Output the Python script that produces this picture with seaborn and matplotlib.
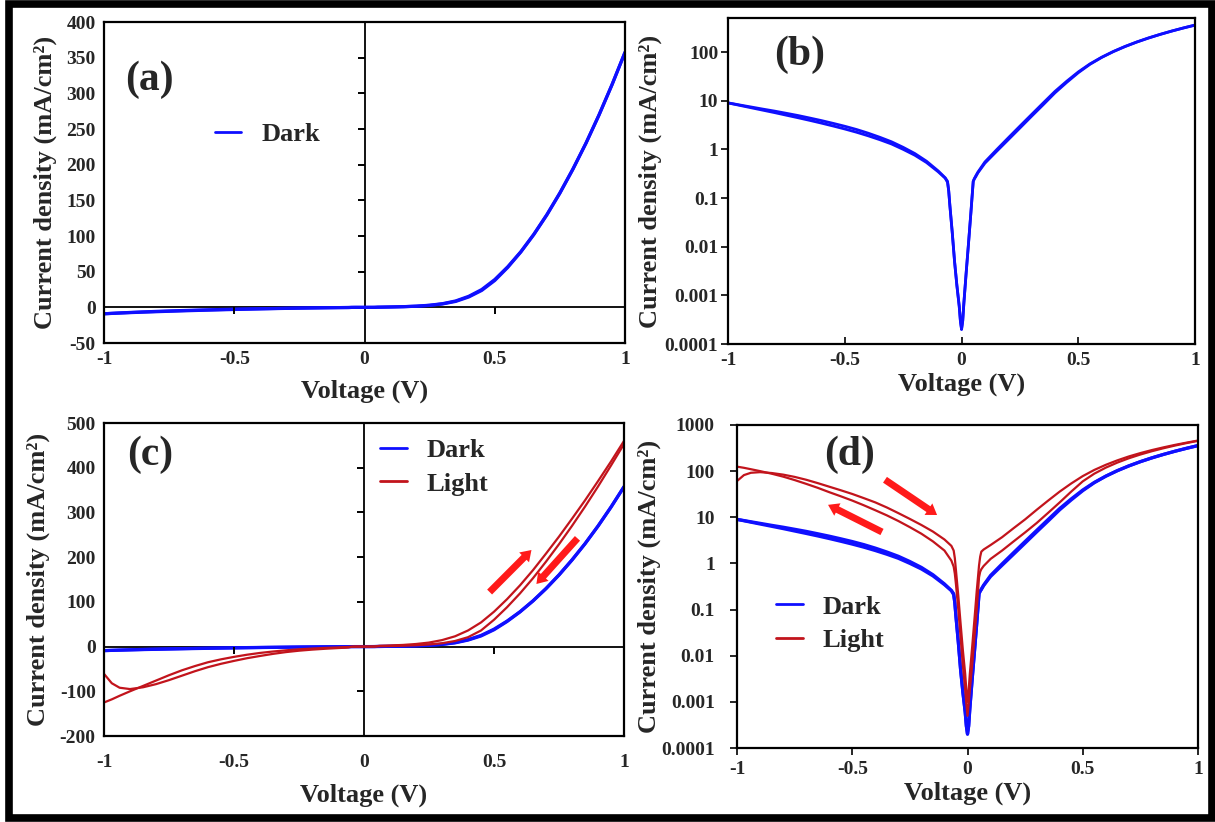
import numpy as np
import pandas as pd
import matplotlib
matplotlib.use("Agg")
import matplotlib.pyplot as plt
import seaborn as sns
from matplotlib import markers
from matplotlib.patches import Rectangle

# ---------------- data ----------------
voltage = [-1.0, -0.97, -0.94, -0.9, -0.85, -0.8, -0.75, -0.7, -0.65, -0.6, -0.55, -0.5,
           -0.45, -0.4, -0.35, -0.3, -0.25, -0.2, -0.15, -0.1, -0.07, -0.06, -0.055, -0.05,
           -0.04, -0.03, -0.02, -0.01, -0.005,
           0.0,
           0.005, 0.01, 0.02, 0.03, 0.04, 0.05, 0.055, 0.06, 0.07, 0.1, 0.15, 0.2, 0.25,
           0.3, 0.35, 0.4, 0.45, 0.5, 0.55, 0.6, 0.65, 0.7, 0.75, 0.8, 0.85, 0.9, 0.95, 1.0]

# |J| in mA/cm^2
dark_fwd = [9.0, 8.4, 7.83, 7.14, 6.37, 5.68, 5.03, 4.46, 3.94, 3.46, 3.02, 2.62,
            2.25, 1.90, 1.58, 1.29, 1.0, 0.757, 0.536, 0.346, 0.256, 0.21, 0.14, 0.07,
            0.02, 0.005, 0.0016, 0.0006, 0.0003,
            0.0002,
            0.0003, 0.0007, 0.003, 0.012, 0.05, 0.22, 0.25, 0.27, 0.33, 0.52, 0.91, 1.58, 2.75,
            4.8, 8.3, 14.5, 23.7, 37.6, 56, 77.5, 102, 129.5, 160, 193.5, 230, 269.5, 312, 357.5]
dark_rev = [9.0, 8.5, 8.0, 7.4, 6.7, 6.1, 5.5, 4.95, 4.4, 3.9, 3.42, 2.98,
            2.56, 2.15, 1.77, 1.43, 1.1, 0.82, 0.57, 0.36, 0.26, 0.22, 0.14, 0.07,
            0.02, 0.005, 0.0016, 0.0006, 0.0003,
            0.0002,
            0.0003, 0.0007, 0.003, 0.012, 0.05, 0.22, 0.25, 0.28, 0.34, 0.55, 0.98, 1.72, 3.0,
            5.2, 9.0, 15.5, 25, 39, 57, 78, 102.5, 130, 160.5, 194, 230, 269.5, 312, 357.5]
light_fwd = [61, 82, 92, 95, 91, 84, 75, 65, 55, 46, 38.5, 32,
             26, 21, 16.3, 12.3, 9.2, 6.8, 4.9, 3.3, 2.4, 1.9, 1.3, 0.7,
             0.2, 0.05, 0.013, 0.004, 0.0018,
             0.001,
             0.0018, 0.004, 0.015, 0.06, 0.25, 0.9, 1.4, 1.8, 2.0, 2.5, 3.7, 5.8, 9,
             14.5, 23, 36, 54, 78, 106, 137, 171, 208, 246, 286, 327, 370, 414, 460]
light_rev = [125, 118, 110, 100, 88, 76, 64, 53, 43.5, 35, 28.5, 23,
             18.2, 14.2, 11, 8.3, 6.1, 4.4, 3.0, 1.9, 1.15, 0.85, 0.6, 0.35,
             0.1, 0.025, 0.006, 0.0018, 0.0009,
             0.0005,
             0.0009, 0.0018, 0.006, 0.025, 0.1, 0.5, 0.66, 0.75, 0.88, 1.25, 1.9, 3.0, 4.7,
             7.5, 12.5, 21, 36, 60, 88, 119, 153, 190, 229, 270, 313, 358, 405, 453]

x_ticks = [-1, -0.5, 0, 0.5, 1]
x_tick_labels = ["-1", "-0.5", "0", "0.5", "1"]
a_yticks = [-50, 0, 50, 100, 150, 200, 250, 300, 350, 400]
c_yticks = [-200, -100, 0, 100, 200, 300, 400, 500]
b_yticks = [1e-4, 1e-3, 1e-2, 1e-1, 1, 10, 100]
b_ylabels = ["0.0001", "0.001", "0.01", "0.1", "1", "10", "100"]
d_yticks = [1e-4, 1e-3, 1e-2, 1e-1, 1, 10, 100, 1000]
d_ylabels = ["0.0001", "0.001", "0.01", "0.1", "1", "10", "100", "1000"]

# ---------------- tables ----------------
V = np.array(voltage)
def table(mag):
    mag = np.array(mag, dtype=float)
    return pd.DataFrame({"V": V, "J": np.where(V < 0, -mag, mag), "absJ": mag})

df_dark_f = table(dark_fwd)
df_dark_r = table(dark_rev)
df_light_f = table(light_fwd)
df_light_r = table(light_rev)

# ---------------- style ----------------
sns.set_style("white")
plt.rcParams["font.family"] = ["Liberation Serif", "DejaVu Serif"]
plt.rcParams["font.weight"] = "bold"
plt.rcParams["axes.labelweight"] = "bold"
plt.rcParams["axes.unicode_minus"] = False

BLUE = "#0f0fff"
RED = "#c2141c"
ARROW = "#ff1a1a"
TICK_FS = 14
LABEL_FS = 19
LEG_FS = 19
PANEL_FS = 30
YLABEL = "Current density (mA/cm²)"
XLABEL = "Voltage (V)"

fig = plt.figure(figsize=(12.15, 8.22), dpi=100)
ax_a = fig.add_axes([0.0856, 0.5827, 0.4288, 0.3905])
ax_b = fig.add_axes([0.5992, 0.5815, 0.3844, 0.3966])
ax_c = fig.add_axes([0.0856, 0.1046, 0.4280, 0.3808])
ax_d = fig.add_axes([0.6066, 0.0900, 0.3794, 0.3930])


def line(ax, df, col, color, lw, label="_nolegend_"):
    sns.lineplot(data=df, x="V", y=col, ax=ax, color=color, lw=lw, sort=False,
                 estimator=None, label=label, legend=False)


def frame(ax):
    for s in ax.spines.values():
        s.set_visible(True)
        s.set_color("black")
        s.set_linewidth(1.6)
    ax.set_xlim(-1, 1)
    ax.set_xticks(x_ticks, labels=x_tick_labels)
    for lab in ax.get_xticklabels() + ax.get_yticklabels():
        lab.set_fontsize(TICK_FS)
        lab.set_fontweight("bold")


def legend(ax, anchor):
    leg = ax.legend(loc="upper left", bbox_to_anchor=anchor, frameon=False,
                    prop={"size": LEG_FS, "weight": "bold"}, handlelength=1.0,
                    handletextpad=0.75, borderpad=0, borderaxespad=0, labelspacing=0.38)
    for h in leg.get_lines():
        h.set_linewidth(2.0)


def linear_axes(ax, yticks, inner_y):
    ax.axhline(0, color="black", lw=1.3, zorder=1)
    ax.axvline(0, color="black", lw=1.3, zorder=1)
    ax.plot(np.zeros(len(inner_y)), inner_y, ls="none", marker=markers.TICKLEFT,
            ms=5, mew=1.4, color="black", zorder=2)
    ax.plot([-0.5, 0.5], [0, 0], ls="none", marker=markers.TICKDOWN,
            ms=5, mew=1.4, color="black", zorder=2)
    ax.set_yticks(yticks, labels=[str(t) for t in yticks])
    ax.set_ylim(yticks[0], yticks[-1])
    ax.tick_params(axis="both", length=0, pad=6)
    frame(ax)


arrow_kw = dict(arrowstyle="simple,head_length=0.75,head_width=1.0,tail_width=0.5",
                color=ARROW, lw=0, shrinkA=0, shrinkB=0)

# ---- (a) ----
line(ax_a, df_dark_f, "J", BLUE, 2.3, "Dark")
line(ax_a, df_dark_r, "J", BLUE, 2.3)
linear_axes(ax_a, a_yticks, [50, 100, 150, 200, 250, 300, 350])
ax_a.set_xlabel(XLABEL, fontsize=LABEL_FS, labelpad=8)
ax_a.set_ylabel(YLABEL, fontsize=LABEL_FS, labelpad=7)
legend(ax_a, (0.213, 0.686))
ax_a.text(0.088, 0.82, "(a)", transform=ax_a.transAxes, fontsize=PANEL_FS,
          fontweight="bold", ha="center", va="center")

# ---- (b) ----
line(ax_b, df_dark_f, "absJ", BLUE, 2.0)
line(ax_b, df_dark_r, "absJ", BLUE, 2.0)
ax_b.set_yscale("log")
ax_b.set_ylim(1e-4, 500)
ax_b.set_yticks(b_yticks, labels=b_ylabels)
ax_b.minorticks_off()
ax_b.tick_params(axis="y", direction="out", length=5, width=1.4, pad=2, left=True)
ax_b.tick_params(axis="x", direction="in", length=5, width=1.4, pad=6, bottom=True)
frame(ax_b)
ax_b.set_xlabel(XLABEL, fontsize=LABEL_FS, labelpad=2)
ax_b.set_ylabel(YLABEL, fontsize=LABEL_FS, labelpad=2)
ax_b.text(0.154, 0.886, "(b)", transform=ax_b.transAxes, fontsize=PANEL_FS,
          fontweight="bold", ha="center", va="center")

# ---- (c) ----
line(ax_c, df_dark_f, "J", BLUE, 2.3, "Dark")
line(ax_c, df_dark_r, "J", BLUE, 2.3)
line(ax_c, df_light_f, "J", RED, 1.6, "Light")
line(ax_c, df_light_r, "J", RED, 1.6)
linear_axes(ax_c, c_yticks, [-100, 100, 200, 300, 400])
ax_c.tick_params(axis="x", pad=13)
ax_c.set_xlabel(XLABEL, fontsize=LABEL_FS, labelpad=9)
ax_c.set_ylabel(YLABEL, fontsize=LABEL_FS, labelpad=7)
legend(ax_c, (0.531, 0.95))
ax_c.text(0.088, 0.898, "(c)", transform=ax_c.transAxes, fontsize=PANEL_FS,
          fontweight="bold", ha="center", va="center")
ax_c.annotate("", xy=(0.644, 216), xytext=(0.483, 122), arrowprops=arrow_kw)
ax_c.annotate("", xy=(0.663, 140), xytext=(0.821, 242), arrowprops=arrow_kw)

# ---- (d) ----
line(ax_d, df_dark_f, "absJ", BLUE, 2.3, "Dark")
line(ax_d, df_dark_r, "absJ", BLUE, 2.3)
line(ax_d, df_light_f, "absJ", RED, 1.6, "Light")
line(ax_d, df_light_r, "absJ", RED, 1.6)
ax_d.set_yscale("log")
ax_d.set_ylim(1e-4, 1000)
ax_d.set_yticks(d_yticks, labels=d_ylabels)
ax_d.minorticks_off()
ax_d.tick_params(axis="both", direction="out", length=5, width=1.4, left=True, bottom=True)
ax_d.tick_params(axis="y", pad=11)
ax_d.tick_params(axis="x", pad=4)
frame(ax_d)
ax_d.set_xlabel(XLABEL, fontsize=LABEL_FS, labelpad=3)
ax_d.set_ylabel(YLABEL, fontsize=LABEL_FS, labelpad=0)
legend(ax_d, (0.085, 0.473))
ax_d.text(0.245, 0.907, "(d)", transform=ax_d.transAxes, fontsize=PANEL_FS,
          fontweight="bold", ha="center", va="center")
ax_d.annotate("", xy=(-0.132, 11.2), xytext=(-0.358, 65), arrowprops=arrow_kw)
ax_d.annotate("", xy=(-0.605, 18.6), xytext=(-0.371, 4.8), arrowprops=arrow_kw)

# ---- outer black frame ----
fig.patches.append(Rectangle((0.0074, 0.0049), 0.9901, 0.9902, transform=fig.transFigure,
                             fill=False, edgecolor="black", lw=5.5, zorder=10))

fig.savefig("out.png", dpi=100, facecolor="white")
